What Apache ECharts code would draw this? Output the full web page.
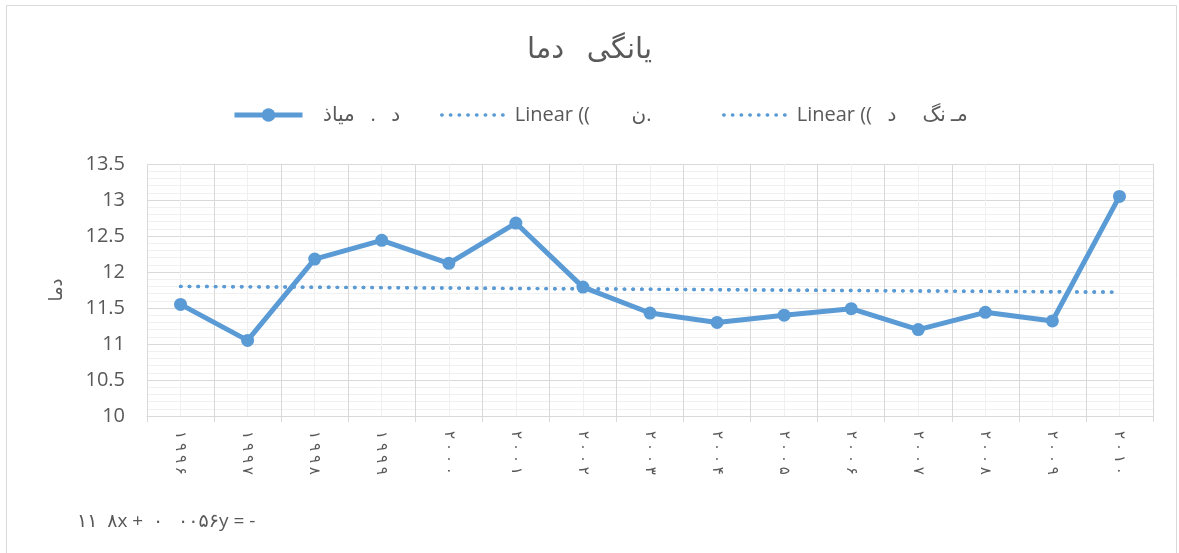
<!DOCTYPE html>
<html>
<head>
<meta charset="utf-8">
<script src="https://cdn.jsdelivr.net/npm/echarts@6/dist/echarts.min.js"></script>
<style>
	html,body{margin:0;padding:0;background:#fff;}
	#echartsmain{width:1179px;height:553px;}
</style>
</head>
<body>
<div id="echartsmain"></div>
<script>
	// 年份（波斯数字）
	var years = ['۱۹۹۶','۱۹۹۷','۱۹۹۸','۱۹۹۹','۲۰۰۰','۲۰۰۱','۲۰۰۲','۲۰۰۳','۲۰۰۴','۲۰۰۵','۲۰۰۶','۲۰۰۷','۲۰۰۸','۲۰۰۹','۲۰۱۰'];
	// 平均温度
	var temps = [11.55, 11.05, 12.18, 12.44, 12.12, 12.68, 11.79, 11.43, 11.30, 11.40, 11.49, 11.20, 11.44, 11.32, 13.05];
	// 趋势线两端
	var trendStart = 11.80;
	var trendEnd = 11.72;
	// y轴刻度
	var yMin = 10, yMax = 13.5, yStep = 0.5;

	var titleText = 'یانگی   دما';
	var name1 = '   د   .   میاذ';
	var name2 = 'Linear ((        ن.';
	var name3 = 'Linear ((   مـ نگ     د';
	var yName = 'دما';
	var equation = '\u202D۱۱  ۸x +  ۰   ۰۰۵۶y = -\u202C';

	function setOption(){
		var myChart = echarts.init(document.getElementById('echartsmain'));
		var trend = [[0, trendStart], [years.length - 1, trendEnd]];
		var font = '"Open Sans", "Noto Sans", "DejaVu Sans", sans-serif';
		var dotted = {color:'#5b9bd5', width:3.4, type:[0.5, 8.2], cap:'round'};
		var noDot = {color:'rgba(0,0,0,0)', borderWidth:0, opacity:0};
		var legendBase = {
			top: 100, itemWidth: 68, itemHeight: 17,
			lineStyle: {width: 'inherit'},
			textStyle: {color:'#595959', fontSize:20, fontFamily:font}
		};
		option = {
			backgroundColor: '#fff',
			animation: false,
			title: {
				text: titleText, left: 'center', top: 30,
				textStyle: {color:'#595959', fontSize:29, fontWeight:'normal', fontFamily:font}
			},
			legend: [
				echarts.util.extend({left: 227, data: [{name: name1}]}, legendBase),
				echarts.util.extend({left: 435, data: [{name: name2, itemStyle: noDot}]}, legendBase),
				echarts.util.extend({left: 717, data: [{name: name3, itemStyle: noDot}]}, legendBase)
			],
			grid: {left:147, right:26, top:164, bottom:137},
			xAxis: [
				{
					type: 'category',
					data: years,
					boundaryGap: true,
					axisLine: {lineStyle:{color:'#d9d9d9', width:1}},
					axisTick: {show:true, length:6, lineStyle:{color:'#d9d9d9'}},
					axisLabel: {
						rotate:-90, margin:15, color:'#595959', fontSize:15, fontFamily:font,
						formatter: function(v){
							// 数字之间留空，强制从左到右
							return '\u202D' + v.split('').join(' ') + '\u202C';
						}
					},
					splitLine: {show:true, lineStyle:{color:'#d9d9d9', width:1}}
				},
				{
					// 只用来画中间的浅色竖线
					type: 'value', min: 0, max: 30, interval: 2,
					axisLine: {show:false}, axisTick: {show:false}, axisLabel: {show:false},
					splitLine: {show:false},
					minorTick: {show:false, splitNumber:2},
					minorSplitLine: {show:true, lineStyle:{color:'#f0f0f0', width:1}}
				}
			],
			yAxis: {
				type: 'value',
				min: yMin, max: yMax, interval: yStep,
				name: yName, nameLocation: 'middle', nameRotate: 90, nameGap: 81,
				nameTextStyle: {color:'#595959', fontSize:18, fontFamily:font},
				axisLine: {show:false},
				axisTick: {show:false},
				axisLabel: {color:'#595959', fontSize:20, margin:22, fontFamily:font},
				splitLine: {lineStyle:{color:'#d9d9d9', width:1}},
				minorTick: {show:false, splitNumber:5},
				minorSplitLine: {show:true, lineStyle:{color:'#f0f0f0', width:1}}
			},
			series: [
				{
					name: name1,
					type: 'line',
					data: temps,
					symbol: 'circle',
					symbolSize: 13,
					itemStyle: {color:'#5b9bd5'},
					lineStyle: {color:'#5b9bd5', width:5},
					z: 5
				},
				{
					name: name2,
					type: 'line',
					data: trend,
					symbol: 'none',
					itemStyle: {color:'#5b9bd5'},
					lineStyle: dotted,
					z: 4
				},
				{
					name: name3,
					type: 'line',
					data: trend,
					symbol: 'none',
					itemStyle: {color:'#5b9bd5'},
					lineStyle: dotted,
					z: 4
				}
			],
			graphic: [
				{
					type: 'rect', left: 4, top: 3, silent: true,
					shape: {width:1170, height:548},
					style: {fill:'none', stroke:'#d9d9d9', lineWidth:1}
				},
				{
					type: 'text', left: 77, top: 512,
					style: {text: equation, fill:'#595959', fontSize:19, fontFamily:font}
				}
			]
		};
		myChart.setOption(option);
	}

	setOption();
</script>
</body>
</html>
